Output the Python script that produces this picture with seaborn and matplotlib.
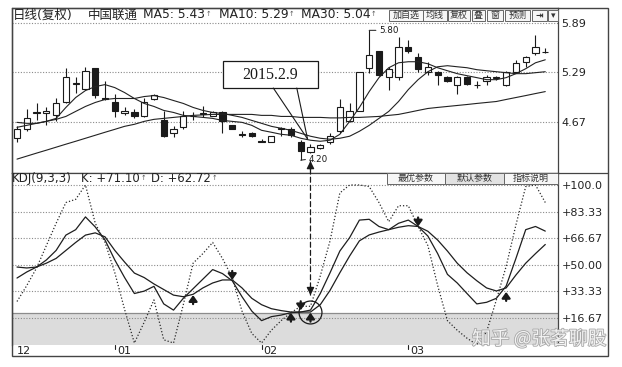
import matplotlib
matplotlib.use("Agg")
import matplotlib.pyplot as plt
import seaborn as sns
import numpy as np
import pandas as pd
from matplotlib.patches import Rectangle, ConnectionPatch
from matplotlib.lines import Line2D
import matplotlib.transforms as mtrans
import matplotlib.patheffects as pe

sns.set_theme(style="white")
plt.rcParams['font.family'] = ['DejaVu Sans', 'Noto Sans CJK SC']
plt.rcParams['axes.unicode_minus'] = False

# ---------------- data ----------------
opens = [4.47, 4.59, 4.785, 4.78, 4.76, 4.92, 5.14, 5.08, 5.33, 4.97,
         4.92, 4.78, 4.79, 4.74, 4.95, 4.69, 4.54, 4.61, 4.74, 4.775,
         4.75, 4.79, 4.63, 4.52, 4.54, 4.435, 4.42, 4.59, 4.59, 4.43,
         4.30, 4.35, 4.42, 4.56, 4.68, 4.81, 5.34, 5.54, 5.23, 5.22,
         5.60, 5.47, 5.29, 5.29, 5.23, 5.13, 5.23, 5.13, 5.17, 5.215,
         5.13, 5.29, 5.41, 5.52, 5.535]
closes = [4.59, 4.72, 4.795, 4.81, 4.91, 5.22, 5.15, 5.30, 5.00, 4.95,
          4.81, 4.81, 4.74, 4.92, 5.00, 4.50, 4.58, 4.75, 4.745, 4.78,
          4.79, 4.68, 4.59, 4.515, 4.50, 4.43, 4.50, 4.60, 4.51, 4.31,
          4.36, 4.39, 4.50, 4.86, 4.81, 5.29, 5.49, 5.25, 5.32, 5.60,
          5.55, 5.32, 5.35, 5.25, 5.17, 5.23, 5.14, 5.125, 5.22, 5.22,
          5.29, 5.40, 5.47, 5.60, 5.53]
highs = [4.62, 4.83, 4.91, 4.85, 4.96, 5.34, 5.22, 5.35, 5.34, 5.17,
         5.01, 4.85, 4.83, 4.96, 5.02, 4.80, 4.62, 4.80, 4.79, 4.87,
         4.80, 4.80, 4.63, 4.56, 4.55, 4.46, 4.50, 4.61, 4.61, 4.45,
         4.40, 4.40, 4.54, 4.95, 4.91, 5.29, 5.80, 5.55, 5.35, 5.72,
         5.68, 5.52, 5.41, 5.30, 5.24, 5.24, 5.24, 5.17, 5.25, 5.24,
         5.30, 5.44, 5.48, 5.74, 5.58]
lows = [4.43, 4.56, 4.70, 4.63, 4.68, 4.91, 5.03, 5.07, 4.97, 4.94,
        4.73, 4.76, 4.72, 4.73, 4.94, 4.48, 4.48, 4.58, 4.69, 4.73,
        4.74, 4.54, 4.585, 4.48, 4.49, 4.42, 4.42, 4.50, 4.49, 4.20,
        4.29, 4.34, 4.40, 4.54, 4.67, 4.81, 5.28, 5.24, 5.07, 5.19,
        5.52, 5.29, 5.25, 5.13, 5.16, 5.02, 5.13, 5.09, 5.13, 5.19,
        5.11, 5.28, 5.35, 5.50, 5.52]
ma5 = [4.605, 4.629, 4.654, 4.678, 4.715, 4.850, 4.972, 5.058, 5.107, 5.131,
       5.094, 5.033, 4.960, 4.899, 4.862, 4.813, 4.788, 4.752, 4.739, 4.727,
       4.715, 4.690, 4.678, 4.666, 4.629, 4.568, 4.544, 4.519, 4.507, 4.470,
       4.446, 4.433, 4.446, 4.519, 4.678, 4.850, 5.045, 5.217, 5.339, 5.400,
       5.413, 5.413, 5.388, 5.339, 5.302, 5.266, 5.241, 5.217, 5.192, 5.192,
       5.217, 5.266, 5.327, 5.400, 5.437]
ma10 = [4.666, 4.654, 4.654, 4.678, 4.703, 4.739, 4.801, 4.862, 4.911, 4.948,
        4.960, 4.960, 4.960, 4.984, 4.996, 4.972, 4.935, 4.899, 4.850, 4.813,
        4.788, 4.776, 4.752, 4.727, 4.690, 4.654, 4.617, 4.593, 4.568, 4.531,
        4.495, 4.470, 4.458, 4.470, 4.495, 4.556, 4.629, 4.715, 4.801, 4.923,
        5.070, 5.192, 5.290, 5.351, 5.364, 5.351, 5.339, 5.315, 5.302, 5.290,
        5.278, 5.266, 5.266, 5.278, 5.290]
ma30 = [4.213, 4.250, 4.287, 4.323, 4.360, 4.397, 4.433, 4.470, 4.507, 4.544,
        4.580, 4.617, 4.642, 4.678, 4.703, 4.715, 4.727, 4.739, 4.752, 4.758,
        4.764, 4.764, 4.764, 4.764, 4.764, 4.752, 4.752, 4.739, 4.739, 4.727,
        4.727, 4.727, 4.721, 4.721, 4.727, 4.727, 4.733, 4.739, 4.752, 4.764,
        4.788, 4.813, 4.837, 4.850, 4.862, 4.874, 4.886, 4.899, 4.911, 4.923,
        4.948, 4.972, 4.996, 5.021, 5.045]
k_vals = [41.7, 45.5, 48.6, 53, 59, 68.6, 72, 80, 73.7, 65.5,
          53, 42, 32, 33.5, 36.5, 25.5, 21.6, 29, 35, 41,
          47, 44.5, 40, 30, 21, 15, 17.5, 18.5, 20, 20.4,
          21.6, 32, 45, 58.6, 67, 78, 78.5, 74, 72, 76,
          78, 74, 68, 57, 44, 38.6, 32, 25.5, 26.5, 29,
          36.7, 54, 72, 74, 71.1]
d_vals = [48.6, 48, 48.6, 51, 54, 59, 64, 68.6, 70, 67.5,
          59, 51.7, 44.8, 42, 38, 34.5, 31, 30, 31.5, 35.5,
          38.6, 40.5, 40.5, 35.5, 29, 25, 22.5, 21.3, 20.4, 20.4,
          20.4, 25, 34, 45, 55.5, 65, 68.7, 70.5, 72, 73.5,
          74.5, 74, 71, 65.5, 58.6, 51, 45, 40, 35.5, 33.6,
          35.5, 43.6, 51, 57, 62.72]
j_vals = [27, 37, 48, 62, 76, 89, 91, 100, 76, 64,
          45, 22, 1, 14, 28, 3, 1, 25, 51, 57,
          64, 54, 42, 21, 7, 1, 9, 15, 20, 24,
          24, 43, 65, 95, 100, 100, 99, 89, 77, 87,
          87, 74, 62, 37, 15, 9, 4, 0, 8, 28,
          49, 75, 99, 100, 89]

price_ticks = [5.89, 5.29, 4.67]
kdj_ticks = [100, 83.33, 66.67, 50, 33.33, 16.67]
kdj_tick_labels = ['+100.0', '+83.33', '+66.67', '+50.00', '+33.33', '+16.67']
month_labels = ['12', '01', '02', '03']
month_pos = [-0.25, 10, 25, 40]
golden_arrows = [(18, 31), (28, 20), (30, 20), (50, 33)]
dead_arrows = [(22, 40.5), (29, 21.5), (41, 74)]
marked_day = 30          # 2015.2.9
marked_kdj = 20.5

# ---------------- figure ----------------
W, H = 622, 367
fig = plt.figure(figsize=(W / 100, H / 100), dpi=100)
fig.patch.set_facecolor('white')

def fx(x):
    return x / W

def fy(y):
    return 1 - y / H

INK = '#1a1a1a'
ax_p = fig.add_axes([fx(12), fy(173), (558 - 12) / W, (173 - 8) / H])
ax_k = fig.add_axes([fx(12), fy(345), (558 - 12) / W, (345 - 173) / H])

idx = np.arange(len(opens))
df = pd.DataFrame({'idx': idx, 'open': opens, 'close': closes, 'high': highs, 'low': lows,
                   'ma5': ma5, 'ma10': ma10, 'ma30': ma30,
                   'K': k_vals, 'D': d_vals, 'J': j_vals})

XL = (-0.51, 55.3)
# ---------------- price panel ----------------
ax_p.set_xlim(*XL)
ax_p.set_ylim(4.042, 6.075)
for t in price_ticks:
    ax_p.axhline(t, ls=(0, (1, 1.5)), color='#8a8a8a', lw=0.8, zorder=1)

o = df['open'].values; c = df['close'].values
up = c >= o
body_low = np.minimum(o, c)
body_h = np.maximum(np.abs(c - o), 0.003)
ax_p.vlines(idx, df['low'], df['high'], color=INK, lw=0.8, zorder=2)
ax_p.bar(idx, body_h, bottom=body_low, width=0.64,
         color=np.where(up, 'white', INK), edgecolor=INK, linewidth=0.8, zorder=3)

for col in ['ma5', 'ma10', 'ma30']:
    sns.lineplot(data=df, x='idx', y=col, ax=ax_p, color='#222222', linewidth=0.8, zorder=4)

ax_p.annotate('5.80', xy=(36, df['high'][36]), xytext=(10, 0), textcoords='offset pixels',
              fontsize=6.3, va='center', ha='left', color=INK,
              arrowprops=dict(arrowstyle='-', lw=0.7, color=INK, shrinkA=0, shrinkB=0, relpos=(0, 0.5)))
ax_p.annotate('4.20', xy=(29, df['low'][29]), xytext=(8, 1), textcoords='offset pixels',
              fontsize=6.3, va='center', ha='left', color=INK,
              arrowprops=dict(arrowstyle='-', lw=0.7, color=INK, shrinkA=0, shrinkB=0, relpos=(0, 0.5)))

# callout box 2015.2.9
bx0, bx1, by0, by1 = 21.06, 30.78, 5.089, 5.422
ax_p.add_patch(Rectangle((bx0, by0), bx1 - bx0, by1 - by0, fc='white', ec=INK, lw=0.9, zorder=6))
ax_p.text((bx0 + bx1) / 2, (by0 + by1) / 2, '2015.2.9', family='Liberation Serif',
          fontsize=11.5, ha='center', va='center', color=INK, zorder=7)
tip = (marked_day - 0.3, 4.461)
ax_p.plot([26.2, tip[0]], [by0, tip[1]], color=INK, lw=0.8, zorder=6)
ax_p.plot([28.6, tip[0]], [by0, tip[1]], color=INK, lw=0.8, zorder=6)

small_head = dict(arrowstyle='-|>,head_length=0.9,head_width=0.45', mutation_scale=5, lw=0.9,
                  color=INK, shrinkA=0, shrinkB=0)
ax_p.annotate('', xy=(marked_day, 4.19), xytext=(0, -9), textcoords='offset pixels',
              arrowprops=small_head, zorder=7)

ax_p.yaxis.tick_right()
ax_p.set_yticks(price_ticks)
ax_p.set_yticklabels([f'{t:.2f}' for t in price_ticks])
ax_p.tick_params(axis='y', length=0, pad=2.5, labelsize=8, labelcolor='#222')
ax_p.set_xticks([])
ax_p.set_xlabel(''); ax_p.set_ylabel('')
for s in ax_p.spines.values():
    s.set_color('#444'); s.set_linewidth(0.9)

# ---------------- KDJ panel ----------------
ax_k.set_xlim(*XL)
ax_k.set_ylim(-0.25, 107.5)
ax_k.axhspan(-1, 20, color='#dcdcdc', lw=0, zorder=0)
ax_k.axhline(20, color='#8c8c8c', lw=0.9, zorder=1)
for t in kdj_ticks:
    ax_k.axhline(t, ls=(0, (1, 1.5)), color='#8a8a8a', lw=0.8, zorder=1)

sns.lineplot(data=df, x='idx', y='K', ax=ax_k, color='#1e1e1e', linewidth=0.9, zorder=4)
sns.lineplot(data=df, x='idx', y='D', ax=ax_k, color='#1e1e1e', linewidth=0.9, zorder=4)
sns.lineplot(data=df, x='idx', y='J', ax=ax_k, color='#2a2a2a', linewidth=0.9,
             linestyle=(0, (1, 1.6)), zorder=4)

arrow_kw = dict(arrowstyle='-|>,head_length=0.7,head_width=0.5', mutation_scale=5, lw=1.6,
                color=INK, shrinkA=0, shrinkB=0)
for i, v in golden_arrows:
    ax_k.annotate('', xy=(i, v), xytext=(0, -9), textcoords='offset pixels', arrowprops=arrow_kw, zorder=6)
for i, v in dead_arrows:
    ax_k.annotate('', xy=(i, v), xytext=(0, 9), textcoords='offset pixels', arrowprops=arrow_kw, zorder=6)

ax_k.plot([marked_day], [marked_kdj], marker='o', ms=16.5, mfc='none', mec=INK, mew=0.9, zorder=6)
ax_k.annotate('', xy=(marked_day, 31), xytext=(0, 9), textcoords='offset pixels',
              arrowprops=small_head, zorder=7)
con = ConnectionPatch(xyA=(marked_day, 4.19), coordsA=ax_p.transData,
                      xyB=(marked_day, 31), coordsB=ax_k.transData,
                      linestyle=(0, (4, 2.5)), lw=0.9, color=INK, zorder=8)
fig.add_artist(con)

ax_k.yaxis.tick_right()
ax_k.set_yticks(kdj_ticks)
ax_k.set_yticklabels(kdj_tick_labels)
ax_k.tick_params(axis='y', length=0, pad=2.5, labelsize=8, labelcolor='#222')
ax_k.set_xticks([])
ax_k.set_xlabel(''); ax_k.set_ylabel('')
for s in ax_k.spines.values():
    s.set_color('#444'); s.set_linewidth(0.9)
ax_k.spines['bottom'].set_visible(False)

# month labels in bottom strip
blend = mtrans.blended_transform_factory(ax_k.transData, fig.transFigure)
for lab, pos in zip(month_labels, month_pos):
    fig.text(0, 0, lab, transform=blend, fontsize=8, color='#222', ha='left', va='center')
    fig.texts[-1].set_position((pos + 0.2, fy(351.5)))
    if pos > 0:
        fig.add_artist(Line2D([pos, pos], [fy(345), fy(349)], transform=blend, color='#222', lw=0.8))

# ---------------- frame ----------------
fig.add_artist(Rectangle((fx(12), fy(356)), (608 - 12) / W, (356 - 8) / H, transform=fig.transFigure,
                         fill=False, ec='#444', lw=1.0))
fig.add_artist(Line2D([fx(558), fx(608)], [fy(173), fy(173)], transform=fig.transFigure, color='#444', lw=0.9))

# ---------------- titles / buttons ----------------
renderer = fig.canvas.get_renderer()

def put(txt, x, y, fs, **kw):
    return fig.text(fx(x), fy(y), txt, fontsize=fs, va='center', ha='left', **kw)

def small_arrow(t, y):
    bb = t.get_window_extent(renderer)
    put('↑', bb.x1 + 0.5, y - 1, 4.8, color='#555')

put('日线(复权)', 13, 15, 9.0, color='#222')
put('中国联通', 88, 15, 9.0, color='#222')
for txt, x in [('MA5: 5.43', 143), ('MA10: 5.29', 219), ('MA30: 5.04', 301)]:
    small_arrow(put(txt, x, 15, 8.8, color='#222'), 15)

put('KDJ(9,3,3)', 12, 178.5, 8.6, color='#222')
for txt, x in [('K: +71.10', 81), ('D: +62.72', 151)]:
    small_arrow(put(txt, x, 178.5, 8.4, color='#222'), 178.5)

def button(label, x0, x1, y0, y1, fc='white', fs=6.5, **kw):
    fig.add_artist(Rectangle((fx(x0), fy(y1)), (x1 - x0) / W, (y1 - y0) / H, transform=fig.transFigure,
                             fc=fc, ec='#666', lw=0.7))
    fig.text(fx((x0 + x1) / 2), fy((y0 + y1) / 2), label, fontsize=fs, ha='center', va='center',
             color='#333', **kw)

top_buttons = [('加自选', 389, 423), ('均线', 423, 447), ('复权', 448, 470), ('叠', 472, 485),
               ('窗', 487, 503), ('预测', 505, 530), ('⇥', 532, 547), ('▾', 548, 558)]
for lab, a, b in top_buttons:
    button(lab, a, b, 10, 21, fc='#f6f6f6', fontweight='bold' if lab == '⇥' else 'normal')

kdj_buttons = [('最优参数', 387, 445, '#f6f6f6'), ('默认参数', 445, 504, '#e2e2e2'), ('指标说明', 504, 558, '#f6f6f6')]
for lab, a, b, fc in kdj_buttons:
    button(lab, a, b, 173, 184, fc=fc)

# watermark
fig.text(fx(472), fy(339), '知乎 @张茗聊股', fontsize=13.5, family=['Noto Sans CJK SC', 'DejaVu Sans'],
         color='#f2f2f2', ha='left', va='center',
         path_effects=[pe.withStroke(linewidth=1.2, foreground='#a8a8a8')])

fig.savefig('out.png', dpi=100)
